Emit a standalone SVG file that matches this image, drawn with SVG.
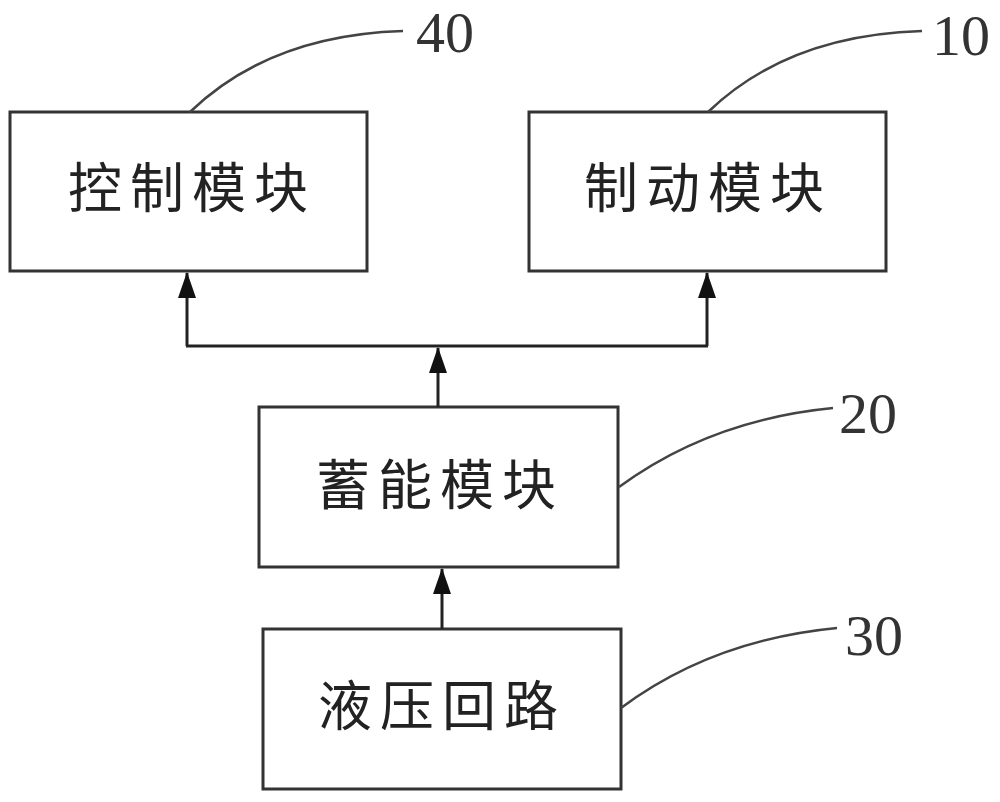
<svg xmlns="http://www.w3.org/2000/svg" width="1000" height="802" viewBox="0 0 1000 802">
<style>
.box{fill:#fff;stroke:#333;stroke-width:3}
.lbl{font-family:"Noto Sans CJK SC","Noto Sans CJK JP",sans-serif;font-size:54px;fill:#222;text-anchor:middle;letter-spacing:8px}
.num{font-family:"Liberation Serif","Times New Roman",serif;font-size:58px;fill:#333}
.lead{fill:none;stroke:#444;stroke-width:2.5}
.conn{fill:none;stroke:#222;stroke-width:3}
</style>
<defs>
<marker id="arr" markerUnits="userSpaceOnUse" markerWidth="26" markerHeight="20" refX="25" refY="9" orient="auto">
<path d="M0,0 L26,9 L0,18 Z" fill="#111"/>
</marker>
</defs>
<rect width="1000" height="802" fill="#fff"/>
<g id="node40">
<rect class="box" x="10" y="112" width="357" height="159"/>
<text class="lbl" x="192" y="208">控制模块</text>
<path class="lead" d="M190,112 Q270,35 403,31"/>
<text class="num" x="416" y="52">40</text>
</g>
<g id="node10">
<rect class="box" x="529" y="112" width="357" height="159"/>
<text class="lbl" x="708" y="208">制动模块</text>
<path class="lead" d="M708,112 Q788,35 922,31"/>
<text class="num" x="932" y="55">10</text>
</g>
<g id="node20">
<rect class="box" x="259" y="407" width="359" height="160"/>
<text class="lbl" x="440" y="505">蓄能模块</text>
<path class="lead" d="M619,487 Q710,420 833,408"/>
<text class="num" x="839" y="433">20</text>
</g>
<g id="node30">
<rect class="box" x="263" y="629" width="358" height="160"/>
<text class="lbl" x="442" y="726">液压回路</text>
<path class="lead" d="M621,708 Q712,640 837,628"/>
<text class="num" x="845" y="655">30</text>
</g>
<g id="connectors">
<path class="conn" d="M438,407 L438,348" marker-end="url(#arr)"/>
<path class="conn" d="M186,346 L708,346"/>
<path class="conn" d="M187,346 L187,273" marker-end="url(#arr)"/>
<path class="conn" d="M707,346 L707,273" marker-end="url(#arr)"/>
<path class="conn" d="M442,629 L442,569" marker-end="url(#arr)"/>
</g>
</svg>
